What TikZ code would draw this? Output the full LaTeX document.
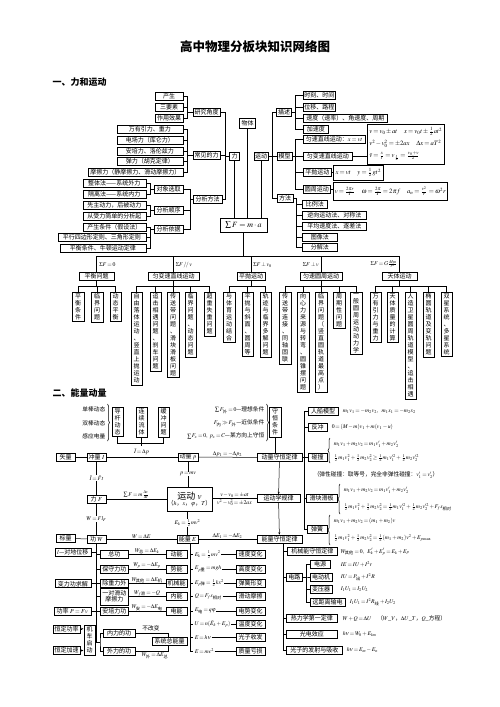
\documentclass[tikz,border=0pt]{standalone}
\usepackage{amsmath}
\usepackage{mathptmx}
\usepackage{fontspec}
\setmainfont{Noto Sans CJK SC}
\usetikzlibrary{decorations.pathreplacing,arrows.meta}
\newcommand\fs{\fontsize{6}{7}\selectfont}
\newcommand\ffs{\fontsize{5.7}{6.6}\selectfont\thickmuskip=2.5mu plus 2mu\medmuskip=2mu plus 1mu\thinmuskip=2mu}
\newcommand\fbs{\fontsize{6.6}{7.6}\selectfont\thickmuskip=3mu plus 2mu\medmuskip=2mu plus 1mu\thinmuskip=2mu}
\newcommand\zw[1]{\text{#1}}
\makeatletter
\newcommand\vtxt[1]{\vbox{\baselineskip=7pt\lineskiplimit=-10pt\lineskip=0pt\@tfor\vt@c:=#1\do{\hbox to 6.5pt{\hss\vt@c\hss}}}}
\makeatother
\begin{document}
\begin{tikzpicture}[x=1pt,y=-1pt,line width=0.5pt,
 bx/.style={draw,inner xsep=1pt,inner ysep=0.5pt,minimum height=8pt,font=\fs},
 vb/.style={draw,inner xsep=2.5pt,inner ysep=1.5pt,anchor=north,font=\fs},
 fm/.style={inner sep=0.5pt,font=\ffs},
 fbx/.style={draw,inner sep=1.2pt,font=\fbs,anchor=north west},
 wl/.style={fm,fill=white},
 ar/.style={-{Stealth[length=2.5pt,width=2pt]}},
 br/.style={decorate,decoration={brace,amplitude=2pt}}]
\useasboundingbox (0,0) rectangle (500,707);
\fill[white] (0,0) rectangle (500,707);
% titles
\node[font=\fontsize{12.5}{14}\selectfont\bfseries] (title) at (255,47) {高中物理分板块知识网络图};
\node[font=\fontsize{9}{10}\selectfont\bfseries,anchor=west] (h1) at (49,82) {一、力和运动};
\node[font=\fontsize{9}{10}\selectfont\bfseries,anchor=west] (h2) at (49,393) {二、能量动量};

% ===== Section 1 left =====
\node[bx,minimum width=28] (cs) at (169,96.7) {产生};
\node[bx,minimum width=28] (sys) at (169,107.5) {三要素};
\node[bx,minimum width=28] (zyxg) at (169,118.7) {作用效果};
\node[bx,minimum width=27] (yjjd) at (206.5,112.5) {研究角度};
\node[bx,minimum width=66,anchor=east] (wyyl) at (183,129.7) {万有引力、重力};
\node[bx,minimum width=66,anchor=east] (dcl) at (183,140.3) {电场力（库仑力）};
\node[bx,minimum width=66,anchor=east] (apl) at (183,151.2) {安培力、洛伦兹力};
\node[bx,minimum width=66,anchor=east] (tl) at (183,161.7) {弹力（胡克定律）};
\node[bx,minimum width=95,anchor=east] (mcl) at (183,172.5) {摩擦力（静摩擦力、滑动摩擦力）};
\node[bx,minimum width=27] (cjdl) at (206.5,155.2) {常见的力};
\node[bx,minimum width=10] (li) at (234.5,156) {力};
\node[bx,minimum width=16,minimum height=10] (wt) at (247.5,123) {物体};
\node[bx,minimum width=63,anchor=east] (ztf) at (146,183.7) {整体法——系统外力};
\node[bx,minimum width=63,anchor=east] (glf) at (146,194.6) {隔离法——系统内力};
\node[bx,minimum width=63,anchor=east] (xzd) at (146,205.4) {先主动力，后被动力};
\node[bx,minimum width=63,anchor=east] (csl) at (146,216.1) {从受力简单的分析起};
\node[bx,minimum width=63,anchor=east] (cstj) at (146,226.8) {产生条件（假设法）};
\node[bx,minimum width=88,anchor=east] (pxsb) at (146,237.5) {平行四边形定则、三角形定则};
\node[bx,minimum width=86,anchor=east] (phtj) at (146,248.2) {平衡条件、牛顿运动定律};
\node[bx,minimum width=29] (dxxq) at (168.5,189.2) {对象选取};
\node[bx,minimum width=29] (fxsx) at (168.5,210.7) {分析顺序};
\node[bx,minimum width=29] (fxyj) at (168.5,229.5) {分析依据};
\node[bx,minimum width=29] (fxff) at (207.5,198.8) {分析方法};

\foreach \c in {cs,sys,zyxg} \draw (\c.east) -| ([xshift=-6pt]yjjd.west) -- (yjjd.west);
\foreach \c in {wyyl,dcl,apl,tl,mcl} \draw (\c.east) -| ([xshift=-6pt]cjdl.west) -- (cjdl.west);
\foreach \c in {yjjd,cjdl,fxff} \draw (\c.east) -| ([xshift=-4pt]li.west) -- (li.west);
\foreach \c in {dxxq,fxsx,fxyj} \draw (\c.east) -| ([xshift=-3pt]fxff.west) -- (fxff.west);
\foreach \c in {ztf,glf} \draw (\c.east) -| ([xshift=-4pt]dxxq.west) -- (dxxq.west);
\foreach \c in {xzd,csl} \draw (\c.east) -| ([xshift=-4pt]fxsx.west) -- (fxsx.west);
\foreach \c in {cstj,pxsb,phtj} \draw (\c.east) -| ([xshift=-4pt]fxyj.west) -- (fxyj.west);

% ===== Section 1 right =====
\node[bx,minimum width=14] (yd) at (261,155.8) {运动};
\node[bx,minimum width=15] (ms) at (284,112.5) {描述};
\node[bx,minimum width=15] (mx) at (284.5,155.8) {模型};
\node[bx,minimum width=16] (ff) at (285,198) {方法};
\node[bx,minimum width=27,anchor=west] (sk) at (303,95.5) {时刻、时间};
\node[bx,minimum width=27,anchor=west] (wy) at (303,107) {位移、路程};
\node[bx,minimum width=84,anchor=west] (sd) at (303,118) {速度（速率）、角速度、周期};
\node[bx,minimum width=25,anchor=west] (jsd) at (303,129.2) {加速度};
\node[bx,minimum width=62,anchor=west] (uszx) at (303,139.5) {匀速直线运动：$x=vt$};
\node[bx,minimum width=49,anchor=west] (ubs) at (303,156.2) {匀变速直线运动};
\node[bx,minimum width=28,anchor=west] (pp) at (303,172.2) {平抛运动};
\node[bx,minimum width=27,anchor=west] (yz) at (303,189.2) {圆周运动};
\node[bx,minimum width=25,anchor=west] (blf) at (302,203.8) {比例法};
\node[bx,minimum width=64,anchor=west] (nx) at (302,215.5) {逆向运动法、对称法};
\node[bx,minimum width=64,anchor=west] (pj) at (302,226.7) {平均速度法、逐差法};
\node[bx,minimum width=35,anchor=west] (tx) at (302,237.2) {图像法};
\node[bx,minimum width=35,anchor=west] (fj) at (302,247.2) {分解法};
\node[fbx,minimum width=77,minimum height=40,align=left] (fb1) at (367,124)
 {$v=v_0\pm at\quad x=v_0t\pm\frac12at^2$\\[3pt] $v^2-v_0^2=\pm2ax\quad \Delta x=aT^2$\\[3pt] $\bar v=\frac{x}{t}=v_{\frac t2}=\frac{v_0+v}{2}$};
\node[fbx,minimum width=50,minimum height=15] (fb2) at (333,165) {$x=vt\quad y=\frac12gt^2$};
\node[fbx,minimum width=114,minimum height=18.3] (fb3) at (333,181.7)
 {$v=\frac{2\pi r}{T}\quad \omega=\frac{2\pi}{T}=2\pi f\quad a_n=\frac{v^2}{r}=\omega^2r$};

\foreach \c in {ms,mx,ff} \draw (yd.east) -- ++(4,0) |- (\c.west);
\foreach \c in {sk,wy,sd,jsd} \draw (ms.east) -- ++(3.5,0) |- (\c.west);
\foreach \c in {uszx,ubs,pp,yz} \draw (mx.east) -- ++(3,0) |- (\c.west);
\foreach \c in {blf,nx,pj,tx,fj} \draw (ff.east) -- ++(2.5,0) |- (\c.west);
\draw (ubs.east) -- (ubs.east -| fb1.west);
\draw (pp.east) -- (pp.east -| fb2.west);
\draw (yz.east) -- (yz.east -| fb3.west);

% ===== Sigma F =====
\node[draw,minimum width=47,minimum height=14,inner sep=1pt,font=\fontsize{8}{9}\selectfont] (sumf) at (243.5,225) {$\sum F=m\cdot a$};
\draw (li.south) -- (li.south |- sumf.north);
\draw (wt.south) -- (wt.south |- sumf.north);
\draw (yd.south) -- (yd.south |- sumf.north);

\coordinate (hl) at (0,256);
\coordinate (gl) at (0,286);
\node[bx,minimum width=35] (phwt) at (96.5,276.5) {平衡问题};
\node[bx,minimum width=51] (ubs2) at (173.5,276.5) {匀变速直线运动};
\node[bx,minimum width=28] (ppyd) at (251,276.5) {平抛运动};
\node[bx,minimum width=42] (yszy) at (321,276.5) {匀速圆周运动};
\node[bx,minimum width=35] (ttyd) at (399.5,276.5) {天体运动};
\draw (sumf.south) -- (sumf.south |- hl);
\draw (phwt.north |- hl) -- (ttyd.north |- hl);
\foreach \c in {phwt,ubs2,ppyd,yszy,ttyd} \draw (\c.north |- hl) -- (\c.north);
\node[fm,anchor=west] (l1) at (98.5,265) {$\Sigma F=0$};
\node[fm,anchor=west] (l2) at (175,265) {$\Sigma F\,/\!/\,v$};
\node[fm,anchor=west] (l3) at (252.5,265) {$\Sigma F\perp v_0$};
\node[fm,anchor=east] (l4) at (319.5,265) {$\Sigma F\perp v$};
\node[fm,anchor=east] (l5) at (398,264) {$\Sigma F=G\frac{Mm}{r^2}$};

% group children
\node[vb] (a1) at (78,292) {\vtxt{平衡条件}};
\node[vb] (a2) at (97,292) {\vtxt{临界问题}};
\node[vb] (a3) at (115.5,292) {\vtxt{动态平衡}};
\node[vb] (b1) at (136.5,292) {\vtxt{自由落体运动、竖直上抛运动}};
\node[vb] (b2) at (155.5,292) {\vtxt{追击相遇问题、刹车问题}};
\node[vb] (b3) at (173,292) {\vtxt{传送带问题、滑块滑板问题}};
\node[vb] (b4) at (190.5,292) {\vtxt{临界问题、动态问题}};
\node[vb] (b5) at (209.5,292) {\vtxt{超重失重问题}};
\node[vb] (c1) at (229,292) {\vtxt{与体育运动结合}};
\node[vb] (c2) at (247.5,292) {\vtxt{平抛与斜面、圆周等}};
\node[vb] (c3) at (265.5,292) {\vtxt{轨迹与临界多解问题}};
\node[vb] (d1) at (285,292) {\vtxt{传送带连接、同轴固联}};
\node[vb] (d2) at (303,292) {\vtxt{向心力来源与转弯、圆锥摆问题}};
\node[vb] (d3) at (321,292) {\vtxt{临界问题（竖直圆轨道最高点）}};
\node[vb] (d4) at (339,292) {\vtxt{周期性问题}};
\node[vb] (d5) at (356,292) {\vtxt{一般圆周运动动力学}};
\node[vb] (e1) at (375.5,292) {\vtxt{万有引力与重力}};
\node[vb] (e2) at (392.5,292) {\vtxt{天体质量的计算}};
\node[vb] (e3) at (410.5,292) {\vtxt{人造卫星圆周轨道模型、追击相遇}};
\node[vb] (e4) at (428.5,292) {\vtxt{椭圆轨道及变轨问题}};
\node[vb] (e5) at (446.5,292) {\vtxt{双星系统、多星系统}};
\draw (phwt.south) -- (phwt.south |- gl); \draw (a1.north |- gl) -- (a3.north |- gl);
\foreach \c in {a1,a2,a3} \draw (\c.north |- gl) -- (\c.north);
\draw (ubs2.south) -- (ubs2.south |- gl); \draw (b1.north |- gl) -- (b5.north |- gl);
\foreach \c in {b1,b2,b3,b4,b5} \draw (\c.north |- gl) -- (\c.north);
\draw (ppyd.south) -- (ppyd.south |- gl); \draw (c1.north |- gl) -- (c3.north |- gl);
\foreach \c in {c1,c2,c3} \draw (\c.north |- gl) -- (\c.north);
\draw (yszy.south) -- (yszy.south |- gl); \draw (d1.north |- gl) -- (d5.north |- gl);
\foreach \c in {d1,d2,d3,d4,d5} \draw (\c.north |- gl) -- (\c.north);
\draw (ttyd.south) -- (ttyd.south |- gl); \draw (e1.north |- gl) -- (e5.north |- gl);
\foreach \c in {e1,e2,e3,e4,e5} \draw (\c.north |- gl) -- (\c.north);

% ===== Section 2 =====
\node[fm,anchor=east] (dbd) at (106,409) {单棒动态};
\node[fm,anchor=east] (sbd) at (106,423) {双棒动态};
\node[fm,anchor=east] (gydl) at (106,436) {感应电量};
\draw[br] (107.5,404) -- (107.5,441);
\node[vb] (dgdt) at (117.5,407) {\vtxt{导杆动态}};
\node[vb] (lxlt) at (141.5,407) {\vtxt{连续流体}};
\node[vb] (hcwt) at (163.5,407) {\vtxt{缓冲问题}};
\coordinate (tl2) at (0,443);
\draw (dgdt.south) -- (dgdt.south |- tl2) -- (hcwt.south |- tl2) -- (hcwt.south);
\draw (lxlt.south) -- (lxlt.south |- tl2) -- ++(0,2.5);

\node[fm,anchor=east] (lxtj) at (265,410) {$\sum F_{\zw{外}}=0$—理想条件};
\node[fm,anchor=east] (jstj) at (265,423) {$F_{\zw{内}}\gg F_{\zw{外}}$—近似条件};
\node[fm,anchor=east] (mfx) at (265,436) {$\sum F_x=0,\ p_x=C$—某方向上守恒};
\draw[br] (266.5,404) -- (266.5,441);
\node[vb] (shtj) at (275,407) {\vtxt{守恒条件}};

\node[bx,minimum width=19] (sl) at (65.5,457) {矢量};
\node[bx,minimum width=19] (cl) at (96.5,457) {冲量 $I$};
\node[bx,minimum width=20] (dlp) at (188,457) {动量 $p$};
\node[bx,minimum width=45] (dlsh) at (279.5,457.5) {动量守恒定律};
\node[bx,minimum width=19] (lf) at (96.5,499) {力 $F$};
\node[draw,minimum width=45,minimum height=24,inner sep=0.5pt,align=center,font=\fs] (ydv) at (189.5,499)
 {{\fontsize{9}{10}\selectfont 运动 $v$}\\[-1pt]（$h$，$x$，$\varphi$，$T$）};
\node[bx,minimum width=43] (ydxgl) at (278.5,498.5) {运动学规律};
\node[bx,minimum width=19] (bl) at (65.5,538.5) {标量};
\node[bx,minimum width=19] (gw) at (96.5,539) {功 $W$};
\node[bx,minimum width=21] (nle) at (187.5,539) {能量 $E$};
\node[bx,minimum width=45] (nlsh) at (279.5,539) {能量守恒定律};

\draw (sl) -- (cl);
\draw (cl) -- (dlp);
\node[fm] (ldp) at (141.5,451.8) {$\bar I=\Delta p$};
\draw (dlp) -- node[fm,above=-0.5pt] {$\Delta p_1=-\Delta p_2$} (dlsh);
\draw (lf) -- node[fm,above=0pt] {$\sum F=m\frac{\Delta v}{\Delta t}$} (ydv);
\draw (ydv.east |- ydxgl) -- node[fm,above=0pt] {$v-v_0=\pm at$} node[fm,below=0pt] {$v^2-v_0^2=\pm2ax$} (ydxgl);
\draw (bl) -- (gw);
\draw (gw) -- node[fm,above=-0.5pt] {$W=\Delta E$} (nle);
\draw (nle) -- node[fm,above=-0.5pt] {$\Delta E_1=-\Delta E_2$} (nlsh);
\draw (cl) -- node[wl] {$\bar I=\bar F t$} (lf);
\draw (lf) -- node[wl] {$W=Fl_F$} (gw);
\draw (dlp) -- node[wl] {$p=mv$} (dlp |- ydv.north);
\draw (ydv.south -| nle) -- node[wl] {$E_k=\frac12mv^2$} (nle);
\draw (shtj.south) -- (shtj.south |- dlsh.north);
\draw[ar] (dlsh) -- (ydxgl);
\draw[ar] (ydxgl) -- (nlsh);

% momentum conservation applications
\node[bx,minimum width=30] (rcmx) at (323,411.5) {人船模型};
\node[bx,minimum width=19] (fc) at (317.5,427.5) {反冲};
\node[bx,minimum width=19] (pz) at (317.5,457.5) {碰撞};
\node[bx,minimum width=31] (hkhb) at (321.5,498.5) {滑块滑板};
\node[bx,minimum width=20] (th) at (317,529.5) {弹簧};
\coordinate (vx) at (304,0);
\draw (rcmx.west -| vx) -- (th.west -| vx);
\foreach \c in {rcmx,fc,pz,hkhb,th} \draw (\c.west) -- (\c.west -| vx);
\draw (dlsh.east) -- (dlsh.east -| vx);
\node[fm,anchor=west] (f1) at (342,411.5) {$m_1v_1=-m_2v_2,\ \ m_1x_1=-m_2x_2$};
\node[fm,anchor=west] (f2) at (331,427.5) {$0=(M-m)v_1+m(v_1-u)$};
\draw[br] (330,463) -- (330,438);
\node[fm,anchor=west] (f3) at (333,444) {$m_1v_1+m_2v_2=m_1v_1'+m_2v_2'$};
\node[fm,anchor=west] (f4) at (333,458) {$\frac12m_1v_1^2+\frac12m_2v_2^2\ge\frac12m_1v_1'^2+\frac12m_2v_2'^2$};
\node[fm,anchor=west] (f5) at (313,475) {（弹性碰撞：取等号，完全非弹性碰撞：$v_1'=v_2'$）};
\draw[br] (340,514) -- (340,484);
\node[fm,anchor=west] (f6) at (343,490) {$m_1v_1+m_2v_2=m_1v_1'+m_2v_2'$};
\node[fm,anchor=west] (f7) at (343,507) {$\frac12m_1v_1^2+\frac12m_2v_2^2=\frac12m_1v_1'^2+\frac12m_2v_2'^2+F_f s_{\zw{相对}}$};
\draw[br] (330,545) -- (330,515);
\node[fm,anchor=west] (f8) at (333,521) {$m_1v_1+m_2v_2=(m_1+m_2)v$};
\node[fm,anchor=west] (f9) at (333,538) {$\frac12m_1v_1^2+\frac12m_2v_2^2=\frac12(m_1+m_2)v^2+E_{p\max}$};

% energy conservation applications
\node[bx,minimum width=50,anchor=west] (jxnsh) at (287,551.5) {机械能守恒定律};
\node[bx,minimum width=16,anchor=west] (dl) at (286,577) {电路};
\node[bx,minimum width=20] (dy) at (320,564) {电源};
\node[bx,minimum width=22] (ddj) at (321,577) {电动机};
\node[bx,minimum width=22] (byq) at (321,589) {变压器};
\node[bx,minimum width=35] (yjl) at (327.5,602.5) {远距离输电};
\node[bx,minimum width=51,anchor=west] (rlx) at (286,618.5) {热力学第一定律};
\node[bx,minimum width=51,anchor=west] (gdxy) at (286,634) {光电效应};
\node[bx,minimum width=56,anchor=west] (gzfs) at (286,650) {光子的发射与吸收};
\coordinate (vx2) at (283,0);
\draw (nlsh.south -| vx2) -- (gzfs.west -| vx2);
\foreach \c in {jxnsh,dl,rlx,gdxy,gzfs} \draw (\c.west) -- (\c.west -| vx2);
\foreach \c in {dy,ddj,byq,yjl} \draw (dl.east) -- ++(4,0) |- (\c.west);
\node[fm,anchor=west] (g1) at (340,552) {$W_{\zw{其他}}=0,\ \ E_k'+E_p'=E_k+E_p$};
\node[fm,anchor=west] (g2) at (340,564) {$IE=IU+I^2r$};
\node[fm,anchor=west] (g3) at (340,577) {$IU=P_{\zw{出}}+I^2R$};
\node[fm,anchor=west] (g4) at (340,589) {$I_1U_1=I_2U_2$};
\node[fm,anchor=west] (g5) at (349,602.5) {$I_1U_1=I^2R_{\zw{线}}+I_2U_2$};
\node[fm,anchor=west] (g6) at (342,618.5) {$W+Q=\Delta U$\quad（$W$\_$V$，$\Delta U$\_$T$，$Q$\_方程）};
\node[fm,anchor=west] (g7) at (342,634) {$h\nu=W_0+E_{km}$};
\node[fm,anchor=west] (g8) at (346,650) {$h\nu=E_m-E_n$};

% work branch
\node[bx,minimum width=36,anchor=east] (ddwy) at (91,552.2) {$l$—对地位移};
\node[bx,minimum width=36,anchor=east] (blgqj) at (91,583.7) {变力功求解};
\node[bx,minimum width=37,anchor=east] (gl1) at (91,610.8) {功率 $P=Fv$};
\node[bx,minimum width=28,anchor=west] (zg) at (100,554.5) {总功};
\node[bx,minimum width=28,anchor=west] (bslg) at (100,568.8) {保守力功};
\node[bx,minimum width=28,anchor=west] (czlw) at (100,583.3) {除重力外};
\node[bx,minimum width=28,minimum height=16.5,anchor=west,align=center] (ydhd) at (100,596.7) {一对滑动\\[-1pt]摩擦力};
\node[bx,minimum width=28,anchor=west] (aplg) at (100,610.8) {安培力功};
\node[bx,minimum width=27] (hdgl) at (66.5,628.8) {恒定功率};
\node[bx,minimum width=27] (hdjs) at (66.5,650.5) {恒定加速};
\node[vb] (jcqd) at (89.5,625) {\vtxt{机车启动}};
\draw[ar] (hdgl.east) -- (hdgl.east -| jcqd.west);
\draw[ar] (hdjs.east) -- (hdjs.east -| jcqd.west);
\node[bx,minimum width=32] (nlgw) at (119,633) {内力的功};
\node[bx,minimum width=32] (wlgw) at (119,651.2) {外力的功};
\node[bx,minimum width=35] (xtzn) at (169.5,640.8) {系统总能量};
\draw (nlgw.east) -| (xtzn.north -| 168,0) ;
\draw (wlgw.east) -| (xtzn.south -| 168,0);
\node[fm] (bgb) at (151,628.5) {不改变};
\node[fm] (wwz) at (155,655.5) {$W_{\zw{外}}=\Delta E_{\zw{总}}$};
\coordinate (vx3) at (96.5,0);
\draw (gw.south) -- (gw.south |- 0,642) -- (100,642);
\draw (nlgw.west) -| (100,642) |- (wlgw.west);
\foreach \c in {ddwy,blgqj,gl1} \draw (\c.east) -- (\c.east -| vx3);
\foreach \c in {zg,bslg,czlw,ydhd,aplg} \draw (\c.west) -- (\c.west -| vx3);

\node[bx,minimum width=21] (dn) at (176.5,554.5) {动能};
\node[bx,minimum width=21] (sn) at (176.5,568.8) {势能};
\node[bx,minimum width=21] (jxn) at (176.5,583.3) {机械能};
\node[bx,minimum width=21] (nn) at (176.5,596.7) {内能};
\node[bx,minimum width=21] (dnn) at (176.5,610.8) {电能};
\draw (zg) -- node[fm,above=-0.5pt] {$W_{\zw{总}}=\Delta E_k$} (dn);
\draw (bslg) -- node[fm,above=-0.5pt] {$W_p=-\Delta E_p$} (sn);
\draw (czlw) -- node[fm,above=-0.5pt] {$W_{\zw{其他}}=\Delta E_{\zw{机}}$} (jxn);
\draw (ydhd.east |- nn) -- node[fm,above=-0.5pt] {$W_{f\zw{滑}}=-Q$} (nn);
\draw (aplg) -- node[fm,above=-0.5pt] {$W_{\zw{安}}=-\Delta E_{\zw{电}}$} (dnn);

% energy forms
\coordinate (vx4) at (190,0);
\node[fm,anchor=west] (q1) at (194,554.5) {$E_k=\frac12mv^2$};
\node[fm,anchor=west] (q2) at (194,568.8) {$E_{p\zw{重}}=mgh$};
\node[fm,anchor=west] (q3) at (194,583) {$E_{p\zw{弹}}=\frac12kx^2$};
\node[fm,anchor=west] (q4) at (194,596.5) {$Q=F_fs_{\zw{相对}}$};
\node[fm,anchor=west] (q5) at (194,610.8) {$E_{\zw{电}}=q\varphi$};
\node[fm,anchor=west] (q6) at (194,624) {$U=n(\bar E_k+E_p)$};
\node[fm,anchor=west] (q7) at (194,637.5) {$E=h\nu$};
\node[fm,anchor=west] (q8) at (194,651) {$E=mc^2$};
\node[bx,minimum width=29] (r1) at (250.5,554.5) {速度变化};
\node[bx,minimum width=29] (r2) at (250.5,568.8) {高度变化};
\node[bx,minimum width=29] (r3) at (250.5,583) {弹簧形变};
\node[bx,minimum width=29] (r4) at (250.5,596.5) {滑动摩擦};
\node[bx,minimum width=29] (r5) at (250.5,610.8) {电势变化};
\node[bx,minimum width=29] (r6) at (250.5,624) {温度变化};
\node[bx,minimum width=29] (r7) at (250.5,637.5) {光子收发};
\node[bx,minimum width=29] (r8) at (250.5,651) {质量亏损};
\draw (nle.south -| vx4) -- (q8.west -| vx4);
\foreach \i in {1,...,8} {\draw (q\i.west -| vx4) -- ++(3,0); \draw (q\i.east) -- (r\i.west);}
\end{tikzpicture}
\end{document}
